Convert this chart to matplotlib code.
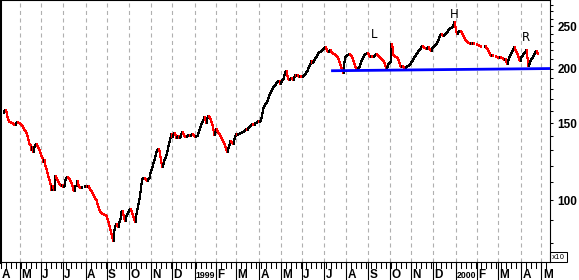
import numpy as np
import pandas as pd
import matplotlib
matplotlib.use('Agg')
import matplotlib.pyplot as plt
from matplotlib.transforms import blended_transform_factory
from matplotlib.ticker import NullFormatter
from matplotlib.patches import Rectangle

plt.rcParams['lines.scale_dashes'] = False

# daily closes (x10), one per trading day from 1998-04-08
closes = [
    158.3, 160.0, 160.8, 159.1, 155.1, 152.6, 151.0, 150.8, 150.2, 150.0,
    149.4, 148.6, 148.4, 150.2, 151.0, 150.2, 150.0, 149.4, 148.6, 147.8,
    146.3, 144.8, 144.0, 142.5, 140.3, 137.4, 134.5, 133.8, 130.3, 132.4,
    128.9, 132.4, 133.8, 134.5, 133.1, 131.7, 130.3, 128.3, 126.3, 124.9,
    122.3, 123.6, 119.8, 117.9, 115.5, 113.1, 111.3, 109.0, 105.6, 107.9,
    106.7, 105.6, 113.7, 112.5, 111.3, 110.1, 109.0, 108.4, 107.9, 108.4,
    107.3, 107.9, 111.3, 112.5, 113.1, 112.5, 111.9, 110.7, 109.6, 107.9,
    105.6, 105.1, 107.9, 107.6, 110.7, 108.4, 107.3, 106.7, 106.9, 107.3,
    107.3, 107.2, 107.9, 107.9, 107.3, 107.9, 106.7, 105.6, 105.1, 104.0,
    102.9, 101.8, 100.8, 100.2, 98.1, 96.6, 95.1, 94.1, 93.6, 93.1,
    93.2, 92.6, 92.7, 92.1, 90.7, 89.2, 87.4, 85.6, 83.8, 82.1,
    80.8, 85.6, 87.4, 88.3, 87.4, 87.0, 89.2, 90.7, 94.1, 94.6,
    92.6, 90.7, 89.7, 92.1, 93.1, 94.1, 95.1, 95.6, 94.6, 93.1,
    91.6, 90.2, 89.2, 93.1, 95.6, 98.1, 100.8, 104.5, 109.0, 111.9,
    112.5, 112.6, 111.9, 111.3, 110.7, 111.9, 112.5, 115.5, 117.3, 119.1,
    121.7, 123.6, 126.3, 128.9, 130.3, 131.0, 129.6, 125.6, 121.7, 119.1,
    121.0, 123.6, 124.9, 126.9, 129.6, 133.1, 135.9, 138.8, 141.8, 139.5,
    141.0, 142.5, 141.0, 138.8, 139.5, 140.3, 138.8, 139.5, 141.8, 143.3,
    141.8, 140.3, 139.5, 139.6, 140.3, 141.0, 140.9, 140.3, 141.0, 141.8,
    141.0, 140.3, 139.5, 140.3, 140.2, 142.5, 144.8, 147.0, 149.4, 151.0,
    152.6, 155.1, 152.6, 150.2, 154.2, 155.9, 155.1, 153.4, 151.0, 148.6,
    144.8, 141.0, 143.3, 145.5, 144.0, 142.5, 141.8, 140.3, 138.8, 137.4,
    135.9, 134.5, 132.4, 130.3, 128.9, 131.7, 133.8, 136.6, 135.9, 135.2,
    134.5, 138.1, 140.3, 141.8, 141.0, 141.8, 141.9, 142.5, 142.6, 143.3,
    143.4, 144.0, 144.8, 145.5, 144.8, 146.3, 147.0, 147.8, 148.6, 149.4,
    148.6, 148.7, 150.2, 150.3, 151.0, 151.8, 151.0, 151.8, 154.2, 158.3,
    162.5, 164.2, 166.0, 166.8, 168.6, 171.3, 174.0, 175.9, 177.7, 179.6,
    181.5, 182.4, 183.4, 185.4, 186.3, 187.3, 187.4, 184.4, 186.3, 188.3,
    189.3, 193.3, 196.4, 197.5, 192.3, 189.3, 188.3, 189.3, 190.3, 189.3,
    188.3, 191.3, 193.3, 192.3, 193.3, 192.3, 191.3, 192.3, 191.3, 191.4,
    192.3, 193.3, 194.4, 196.4, 197.5, 200.6, 202.7, 204.9, 208.1, 206.0,
    207.0, 209.2, 211.5, 212.6, 214.8, 217.1, 218.2, 218.3, 219.4, 220.5,
    221.7, 222.9, 224.0, 221.7, 219.4, 218.2, 219.4, 220.5, 218.2, 217.1,
    216.0, 215.9, 214.8, 213.7, 212.6, 210.4, 207.0, 203.8, 200.6, 198.5,
    195.4, 207.0, 212.6, 213.7, 214.8, 214.9, 216.0, 214.8, 213.7, 211.5,
    208.1, 204.9, 201.7, 199.6, 199.7, 200.6, 201.7, 204.9, 208.1, 210.4,
    212.6, 214.8, 216.0, 216.1, 217.1, 216.0, 213.7, 212.6, 213.7, 212.6,
    212.7, 213.7, 214.8, 216.0, 214.8, 213.7, 212.6, 211.5, 210.4, 209.2,
    208.1, 206.0, 202.7, 200.6, 201.7, 204.9, 206.0, 207.0, 227.6, 224.0,
    214.8, 213.7, 212.6, 212.5, 211.5, 209.2, 206.0, 202.7, 201.7, 202.7,
    201.7, 200.6, 199.6, 201.7, 202.7, 202.8, 203.8, 204.9, 207.0, 208.1,
    210.4, 212.6, 213.7, 216.0, 217.1, 219.4, 220.5, 221.7, 224.0, 225.2,
    224.0, 222.9, 222.8, 221.7, 222.9, 224.0, 221.7, 220.5, 219.4, 222.9,
    224.0, 225.2, 226.4, 227.6, 230.0, 232.4, 236.1, 238.6, 239.9, 238.6,
    237.4, 238.6, 239.9, 241.2, 242.5, 245.0, 246.3, 247.6, 247.7, 248.9,
    251.5, 255.5, 248.9, 242.5, 239.9, 242.5, 243.7, 243.8, 242.5, 239.9,
    237.4, 234.9, 232.4, 231.2, 230.0, 228.8, 228.9, 227.6, 228.8, 227.6,
    228.8, 227.6, 227.7, 227.8, 226.4, 226.5, 225.2, 225.1, 224.0, 224.1,
    223.9, 224.0, 225.2, 222.9, 221.7, 219.4, 217.1, 214.8, 213.7, 214.8,
    213.7, 213.8, 213.6, 212.6, 212.7, 211.5, 211.6, 212.6, 211.5, 211.6,
    210.4, 209.2, 210.4, 207.0, 204.9, 209.2, 212.6, 214.8, 217.1, 219.4,
    221.7, 224.0, 220.5, 218.2, 216.0, 212.6, 209.2, 208.1, 212.6, 213.7,
    216.0, 217.1, 218.2, 220.5, 211.5, 202.7, 204.9, 208.1, 210.4, 211.5,
    213.7, 216.0, 218.2, 219.4, 217.1, 216.0,
]
first_date = '1998-04-08'
axis_start = '1998-04-06'
axis_end = '2000-05-12'
month_letters = ['J', 'F', 'M', 'A', 'M', 'J', 'J', 'A', 'S', 'O', 'N', 'D']

neck_dates = ['1999-07-12', '2000-05-12']
neck_vals = [197.7, 200.0]

pattern_labels = ['L', 'H', 'R']
pattern_dates = ['1999-09-09', '1999-12-30', '2000-04-07']
pattern_vals = [238.6, 265.1, 234.9]

y_major = [100, 150, 200, 250]
y_minor = [80, 90, 110, 120, 130, 140, 160, 170, 180, 190, 210, 220, 230, 240, 260, 270, 280]

LAB_FONT = 'Liberation Sans'


def bpos(d):
    # business-day position on the x axis
    return np.busday_count(np.datetime64(axis_start, 'D'), np.asarray(d, dtype='datetime64[D]'))


W, H = 579, 280
fig = plt.figure(figsize=(W / 100, H / 100), dpi=100)
ax = fig.add_axes([0, 18 / H, 550 / W, 262 / H])

closes = np.array(closes)
dates = pd.bdate_range(first_date, periods=len(closes))
x = bpos(dates.values.astype('datetime64[D]'))
prev = np.concatenate([[closes[0]], closes[:-1]])
lo = np.minimum(prev, closes)
hi = np.maximum(prev, closes)
cols = np.where(closes < prev, '#ff0000', '#000000')

n_days = int(bpos(axis_end))
ax.set_xlim(-0.5, n_days - 0.5)
ax.set_yscale('log')
ax.set_ylim(72.3, 286.8)

# month grid
months = pd.date_range('1998-04-01', '2000-05-01', freq='MS')
month_pos = []
for m in months:
    fbd = np.busday_offset(np.datetime64(m.date(), 'D'), 0, roll='forward')
    p = int(bpos(fbd))
    month_pos.append(p)
    if p > 0:
        ax.axvline(p, color='#b0b0b0', lw=0.8, linestyle=(0, (2.9, 2.5)), zorder=0)

ax.vlines(x, lo, hi, colors=cols, linewidth=1.44, capstyle='projecting',
          antialiased=False, zorder=2)

nx = bpos(neck_dates)
ax.plot(nx, neck_vals, color='#0000ff', lw=2.0, solid_capstyle='butt', zorder=3)

for lab, d, v in zip(pattern_labels, pattern_dates, pattern_vals):
    ax.text(bpos(d), v, lab, ha='center', va='center', fontsize=8.5, color='#000000')

# right price axis
ax.yaxis.tick_right()
ax.set_yticks(y_major)
ax.set_yticklabels([str(v) for v in y_major])
ax.set_yticks(y_minor, minor=True)
ax.yaxis.set_minor_formatter(NullFormatter())
ax.tick_params(axis='y', which='both', direction='out', length=2.3, width=0.75,
               colors='black', pad=3)
for t in ax.get_yticklabels():
    t.set_fontfamily(LAB_FONT)
    t.set_fontweight('bold')
    t.set_fontsize(8.5)
ax.tick_params(axis='x', bottom=False, labelbottom=False)

for s in ax.spines.values():
    s.set_linewidth(0.8)
    s.set_color('black')
ax.spines['left'].set_linewidth(2.2)

# date strip under the chart
trans = blended_transform_factory(ax.transData, fig.transFigure)
mondays = pd.date_range(axis_start, axis_end, freq='W-MON')
for d in mondays:
    p = int(bpos(d.date()))
    ax.plot([p, p], [18 / H, 12 / H], transform=trans, clip_on=False, color='black', lw=0.75)
for m, p in zip(months, month_pos):
    if p > 0:
        ax.plot([p, p], [18 / H, 0], transform=trans, clip_on=False, color='black', lw=0.8)
    if m.month == 1:
        lab, fs, off = str(m.year), 6.3, 0.9
    else:
        lab, fs, off = month_letters[m.month - 1], 8.5, 1.3
    ax.text(max(p, 0) + off, 1.5 / H, lab, transform=trans, ha='left', va='baseline',
            fontsize=fs, fontweight='bold', family=LAB_FONT)

# x10 multiplier box
fig.patches.append(Rectangle((550 / W, 18 / H), 17 / W, 10 / H, transform=fig.transFigure,
                             fill=False, edgecolor='black', lw=0.75))
fig.text(558.5 / W, 23 / H, 'x10', ha='center', va='center', fontsize=5)

fig.savefig('out.png', dpi=100)
